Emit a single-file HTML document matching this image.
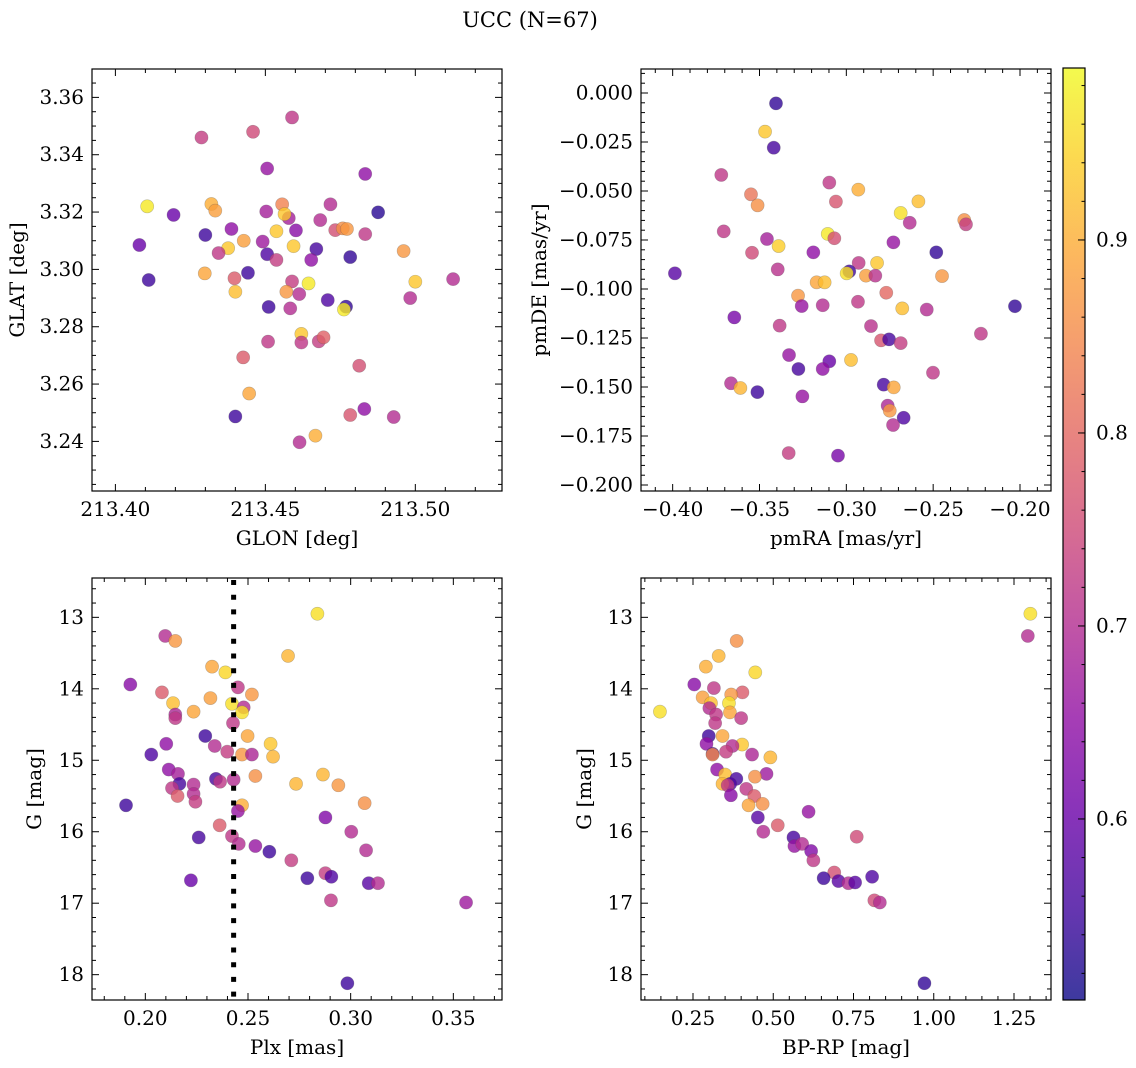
<!DOCTYPE html>
<html><head><meta charset="utf-8"><style>
html,body{margin:0;padding:0;background:#fff;}
svg{display:block;font-family:"DejaVu Serif","Liberation Serif",serif;}
</style></head><body>
<svg id="fig" width="1136" height="1068" xmlns="http://www.w3.org/2000/svg">
<defs><linearGradient id="plasma" x1="0" y1="1" x2="0" y2="0">
<stop offset="0" stop-color="#0d0887"/><stop offset="0.1" stop-color="#41049d"/><stop offset="0.2" stop-color="#6a00a8"/><stop offset="0.3" stop-color="#8f0da4"/><stop offset="0.4" stop-color="#b12a90"/><stop offset="0.5" stop-color="#cc4778"/><stop offset="0.6" stop-color="#e16462"/><stop offset="0.7" stop-color="#f2844b"/><stop offset="0.8" stop-color="#fca636"/><stop offset="0.9" stop-color="#fcce25"/><stop offset="1" stop-color="#f0f921"/>
</linearGradient></defs>
<text x="530" y="27" text-anchor="middle" font-size="21">UCC (N=67)</text>
</svg>
<script>
// Panel 1: GLON / GLAT
const glon=[213.4589,213.4459,213.4287,213.4506,213.4833,213.4106,213.4194,213.4320,213.4333,213.4503,213.4556,213.4578,213.4564,213.4717,213.4876,213.4683,213.4733,213.4758,213.4772,213.4833,213.4387,213.4300,213.4080,213.4428,213.4376,213.4344,213.4537,213.4602,213.4491,213.4506,213.4537,213.4594,213.4670,213.4653,213.4783,213.4961,213.4111,213.4298,213.4397,213.4442,213.4400,213.4589,213.4644,213.4570,213.4613,213.5000,213.5126,213.4983,213.4708,213.4511,213.4583,213.4769,213.4762,213.4620,213.4620,213.4678,213.4694,213.4509,213.4426,213.4813,213.4446,213.4400,213.4783,213.4830,213.4928,213.4614,213.4667];
const glat=[3.3530,3.3480,3.3460,3.3352,3.3333,3.3220,3.3190,3.3228,3.3205,3.3202,3.3227,3.3179,3.3193,3.3227,3.3199,3.3172,3.3137,3.3143,3.3141,3.3123,3.3141,3.3120,3.3085,3.3100,3.3074,3.3057,3.3133,3.3136,3.3097,3.3053,3.3033,3.3081,3.3071,3.3033,3.3043,3.3064,3.2963,3.2986,3.2969,3.2988,3.2922,3.2958,3.2951,3.2922,3.2914,3.2957,3.2966,3.2900,3.2893,3.2869,3.2864,3.2870,3.2860,3.2775,3.2745,3.2749,3.2763,3.2748,3.2693,3.2664,3.2567,3.2487,3.2492,3.2513,3.2485,3.2397,3.2420];
const prob1=[0.72,0.75,0.73,0.66,0.65,0.97,0.6,0.9,0.88,0.68,0.84,0.68,0.93,0.7,0.53,0.7,0.76,0.86,0.87,0.72,0.65,0.55,0.6,0.88,0.93,0.72,0.93,0.64,0.67,0.57,0.73,0.93,0.56,0.65,0.54,0.87,0.55,0.89,0.78,0.55,0.92,0.73,0.97,0.87,0.7,0.93,0.7,0.7,0.57,0.55,0.7,0.54,0.97,0.93,0.72,0.73,0.79,0.72,0.78,0.76,0.89,0.55,0.77,0.65,0.7,0.7,0.9];
// Panel 2: pmRA / pmDE
const pmra=[-0.3405,-0.3468,-0.3418,-0.3720,-0.3098,-0.2931,-0.3549,-0.3511,-0.3060,-0.2585,-0.2687,-0.2635,-0.2321,-0.2311,-0.3706,-0.3457,-0.3390,-0.3543,-0.3107,-0.3069,-0.3190,-0.2729,-0.2482,-0.3987,-0.3395,-0.2929,-0.2823,-0.2983,-0.2998,-0.2887,-0.2833,-0.3171,-0.3125,-0.2449,-0.3278,-0.3257,-0.3136,-0.2933,-0.2770,-0.2678,-0.2537,-0.2029,-0.3645,-0.3384,-0.2858,-0.2225,-0.2800,-0.2754,-0.2687,-0.3330,-0.3098,-0.3136,-0.3276,-0.2973,-0.2501,-0.3664,-0.3610,-0.3512,-0.2785,-0.2727,-0.3253,-0.2762,-0.2750,-0.2670,-0.2731,-0.3332,-0.3048];
const pmde=[-0.0053,-0.0197,-0.0279,-0.0418,-0.0457,-0.0493,-0.0517,-0.0573,-0.0554,-0.0553,-0.0612,-0.0662,-0.0648,-0.0670,-0.0706,-0.0745,-0.0781,-0.0815,-0.0719,-0.0741,-0.0813,-0.0762,-0.0813,-0.0920,-0.0900,-0.0867,-0.0867,-0.0910,-0.0920,-0.0932,-0.0932,-0.0966,-0.0966,-0.0934,-0.1034,-0.1087,-0.1083,-0.1065,-0.1019,-0.1099,-0.1105,-0.1088,-0.1145,-0.1187,-0.1189,-0.1228,-0.1262,-0.1257,-0.1276,-0.1337,-0.1369,-0.1408,-0.1408,-0.1362,-0.1427,-0.1481,-0.1505,-0.1526,-0.1488,-0.1502,-0.1548,-0.1595,-0.1621,-0.1657,-0.1694,-0.1837,-0.1850];
const prob2=[0.54,0.93,0.56,0.72,0.72,0.9,0.82,0.86,0.77,0.92,0.96,0.7,0.86,0.73,0.72,0.68,0.94,0.75,0.97,0.76,0.65,0.66,0.54,0.58,0.71,0.72,0.93,0.55,0.96,0.88,0.71,0.89,0.92,0.87,0.87,0.66,0.7,0.72,0.8,0.92,0.7,0.54,0.62,0.72,0.71,0.72,0.77,0.56,0.73,0.66,0.6,0.65,0.56,0.92,0.72,0.7,0.91,0.55,0.56,0.89,0.66,0.69,0.87,0.57,0.7,0.73,0.62];
// Panel 3: Plx / G
const plx=[0.2838,0.2097,0.2146,0.2695,0.2325,0.2390,0.1927,0.2451,0.2081,0.2519,0.2317,0.2135,0.2422,0.2479,0.2471,0.2235,0.2146,0.2146,0.2427,0.2292,0.2498,0.2102,0.2610,0.2622,0.2029,0.2338,0.2399,0.2471,0.2519,0.2114,0.2159,0.2166,0.2344,0.2364,0.2430,0.2536,0.2734,0.2865,0.2940,0.2130,0.2235,0.2235,0.2157,0.2244,0.1906,0.2471,0.2451,0.3068,0.2877,0.2362,0.3003,0.2260,0.2422,0.2455,0.2536,0.2604,0.3075,0.2711,0.2789,0.2877,0.2906,0.3088,0.3133,0.2222,0.2904,0.3562,0.2984];
const gmag3=[12.95,13.26,13.33,13.54,13.69,13.77,13.94,13.98,14.05,14.08,14.13,14.20,14.21,14.26,14.33,14.32,14.36,14.41,14.48,14.66,14.66,14.77,14.77,14.95,14.92,14.80,14.88,14.92,14.92,15.13,15.19,15.33,15.26,15.30,15.27,15.22,15.33,15.20,15.35,15.39,15.34,15.47,15.50,15.58,15.63,15.63,15.71,15.60,15.80,15.91,16.00,16.08,16.06,16.17,16.20,16.28,16.26,16.40,16.65,16.58,16.63,16.72,16.72,16.68,16.96,16.99,18.12];
const prob3=[0.96,0.7,0.87,0.91,0.89,0.95,0.64,0.72,0.78,0.87,0.88,0.92,0.96,0.7,0.96,0.89,0.69,0.72,0.72,0.55,0.89,0.65,0.93,0.91,0.57,0.7,0.73,0.87,0.69,0.65,0.68,0.56,0.56,0.72,0.7,0.86,0.91,0.91,0.87,0.72,0.7,0.7,0.78,0.73,0.55,0.9,0.66,0.86,0.63,0.78,0.7,0.56,0.72,0.7,0.66,0.55,0.7,0.73,0.55,0.73,0.57,0.58,0.7,0.6,0.72,0.67,0.55];
const plxLine=[0.243];
// Panel 4: BP-RP / G
const bprp=[1.301,1.293,0.386,0.330,0.290,0.444,0.254,0.315,0.404,0.369,0.280,0.306,0.362,0.301,0.322,0.365,0.147,0.400,0.319,0.299,0.342,0.292,0.403,0.373,0.353,0.311,0.311,0.434,0.491,0.325,0.479,0.350,0.385,0.366,0.342,0.358,0.443,0.416,0.368,0.441,0.423,0.467,0.452,0.610,0.514,0.469,0.760,0.563,0.566,0.590,0.618,0.625,0.690,0.657,0.703,0.734,0.755,0.808,0.815,0.832,0.971];
const gmag4=[12.95,13.26,13.33,13.54,13.69,13.77,13.94,13.99,14.05,14.08,14.12,14.20,14.20,14.27,14.36,14.33,14.32,14.41,14.48,14.66,14.66,14.77,14.78,14.80,14.88,14.91,14.92,14.92,14.96,15.13,15.19,15.20,15.26,15.33,15.33,15.35,15.23,15.40,15.49,15.50,15.63,15.61,15.80,15.72,15.91,16.00,16.07,16.08,16.20,16.17,16.27,16.40,16.57,16.65,16.69,16.72,16.71,16.63,16.96,16.99,18.12];
const prob4=[0.96,0.7,0.86,0.91,0.9,0.95,0.64,0.72,0.78,0.87,0.88,0.92,0.96,0.7,0.72,0.89,0.96,0.72,0.72,0.55,0.89,0.65,0.93,0.7,0.73,0.57,0.85,0.69,0.91,0.65,0.67,0.92,0.56,0.57,0.91,0.72,0.86,0.72,0.64,0.78,0.89,0.86,0.58,0.66,0.78,0.7,0.75,0.56,0.66,0.7,0.63,0.72,0.76,0.55,0.58,0.7,0.58,0.57,0.75,0.7,0.54];
const cbTicks=[0.6,0.7,0.8,0.9];

const NS="http://www.w3.org/2000/svg";
const svg=document.getElementById('fig');
const VMIN=0.5062,VMAX=0.9891;
const FS=20;
const stops=[[13,8,135],[65,4,157],[106,0,168],[143,13,164],[177,42,144],[204,71,120],[225,100,98],[242,132,75],[252,166,54],[252,206,37],[240,249,33]];
function cmap(v){let t=(v-VMIN)/(VMAX-VMIN);t=Math.max(0,Math.min(1,t))*10;const i=Math.min(9,Math.floor(t)),f=t-i;const a=stops[i],b=stops[i+1];return 'rgb('+a.map((c,k)=>Math.round(c+(b[k]-c)*f)).join(',')+')';}
function mk(tag,attrs,parent){const e=document.createElementNS(NS,tag);for(const k in attrs)e.setAttribute(k,attrs[k]);(parent||svg).appendChild(e);return e;}
function fmt(v,d){const s=Math.abs(v).toFixed(d);return (v<-1e-9?'\u2212':'')+s;}

function panel(o){
  const g=mk('g',{});
  
  
  const X=v=>o.x0+(v-o.xmin)/(o.xmax-o.xmin)*(o.x1-o.x0);
  const Y=v=>o.inv? o.y0+(v-o.ymin)/(o.ymax-o.ymin)*(o.y1-o.y0) : o.y1-(v-o.ymin)/(o.ymax-o.ymin)*(o.y1-o.y0);
  for(let i=0;i<o.xs.length;i++){
    const c=mk('circle',{cx:X(o.xs[i]),cy:Y(o.ys[i]),r:6.6,fill:cmap(o.cs[i]),'fill-opacity':0.8,stroke:'#555','stroke-opacity':0.35,'stroke-width':0.6},g);
    
    
  }
  if(o.vline){for(const v of o.vline){const l=mk('line',{x1:X(v),x2:X(v),y1:o.y0+2,y2:o.y1,stroke:'#000','stroke-width':5,'stroke-dasharray':'5 9.7'},g);
    
    }}
  const tk=(x1,y1,x2,y2)=>mk('line',{x1,y1,x2,y2,stroke:'#000','stroke-width':1},g);
  let s=Math.ceil(o.xmin/o.xminor-1e-6);
  for(let k=s;k*o.xminor<=o.xmax+1e-9;k++){const v=k*o.xminor;const px=X(v);
    const major=Math.abs(v/o.xmajor-Math.round(v/o.xmajor))<1e-4;const L=major?7:4;
    tk(px,o.y1,px,o.y1-L);tk(px,o.y0,px,o.y0+L);
    if(major){const t=mk('text',{x:px,y:o.y1+25,'text-anchor':'middle','font-size':FS},g);t.textContent=fmt(v,o.xd);
      
      }}
  s=Math.ceil(o.ymin/o.yminor-1e-6);
  for(let k=s;k*o.yminor<=o.ymax+1e-9;k++){const v=k*o.yminor;const py=Y(v);
    const major=Math.abs(v/o.ymajor-Math.round(v/o.ymajor))<1e-4;const L=major?7:4;
    tk(o.x0,py,o.x0+L,py);tk(o.x1,py,o.x1-L,py);
    if(major){const t=mk('text',{x:o.x0-8,y:py+6.5,'text-anchor':'end','font-size':FS},g);t.textContent=fmt(v,o.yd);
      
      }}
  const fr=mk('rect',{x:o.x0,y:o.y0,width:o.x1-o.x0,height:o.y1-o.y0,fill:'none',stroke:'#000','stroke-width':1.2},g);
  
  
  const xl=mk('text',{x:(o.x0+o.x1)/2,y:o.y1+54,'text-anchor':'middle','font-size':FS},g);xl.textContent=o.xlabel;
  
  
  const yl=mk('text',{x:0,y:0,'text-anchor':'middle','font-size':FS,transform:`translate(${o.ylx},${(o.y0+o.y1)/2}) rotate(-90)`},g);yl.textContent=o.ylabel;
  
  
}
panel({name:'glon-glat-panel',x0:92,x1:502,y0:69,y1:491,xmin:213.3922,xmax:213.5289,ymin:3.2227,ymax:3.3699,xs:glon,ys:glat,cs:prob1,xmajor:0.05,xminor:0.01,ymajor:0.02,yminor:0.005,xd:2,yd:2,xlabel:'GLON [deg]',ylabel:'GLAT [deg]',ylx:24});
panel({name:'pm-panel',x0:641,x1:1051,y0:69,y1:491,xmin:-0.41823,xmax:-0.18215,ymin:-0.20306,ymax:0.012245,xs:pmra,ys:pmde,cs:prob2,xmajor:0.05,xminor:0.01,ymajor:0.025,yminor:0.005,xd:2,yd:3,xlabel:'pmRA [mas/yr]',ylabel:'pmDE [mas/yr]',ylx:546});
panel({name:'plx-g-panel',x0:92,x1:502,y0:578,y1:1000,inv:true,xmin:0.17403,xmax:0.37370,ymin:12.4496,ymax:18.3545,xs:plx,ys:gmag3,cs:prob3,vline:plxLine,xmajor:0.05,xminor:0.01,ymajor:1,yminor:0.2,xd:2,yd:0,xlabel:'Plx [mas]',ylabel:'G [mag]',ylx:41});
panel({name:'cmd-panel',x0:641,x1:1051,y0:578,y1:1000,inv:true,xmin:0.08801,xmax:1.36526,ymin:12.4496,ymax:18.3545,xs:bprp,ys:gmag4,cs:prob4,xmajor:0.25,xminor:0.05,ymajor:1,yminor:0.2,xd:2,yd:0,xlabel:'BP-RP [mag]',ylabel:'G [mag]',ylx:591});

const cb=mk('g',{});


const CY0=68,CY1=1000,CX0=1063,CX1=1085;
mk('rect',{x:CX0,y:CY0,width:CX1-CX0,height:CY1-CY0,fill:'url(#plasma)','fill-opacity':0.8},cb);
mk('rect',{x:CX0,y:CY0,width:CX1-CX0,height:CY1-CY0,fill:'none',stroke:'#000','stroke-width':1.2},cb);
const CBY=v=>CY1-(v-VMIN)/(VMAX-VMIN)*(CY1-CY0);
for(let k=26;k<=49;k++){const v=k*0.02;if(v<VMIN||v>VMAX)continue;mk('line',{x1:CX1,x2:CX1-3.5,y1:CBY(v),y2:CBY(v),stroke:'#000','stroke-width':1},cb);}
for(const v of cbTicks){const y=CBY(v);mk('line',{x1:CX1,x2:CX1-7,y1:y,y2:y,stroke:'#000','stroke-width':1},cb);
  const t=mk('text',{x:CX1+11,y:y+6.5,'font-size':FS},cb);t.textContent=v.toFixed(1);
  
  }
</script>
</body></html>
